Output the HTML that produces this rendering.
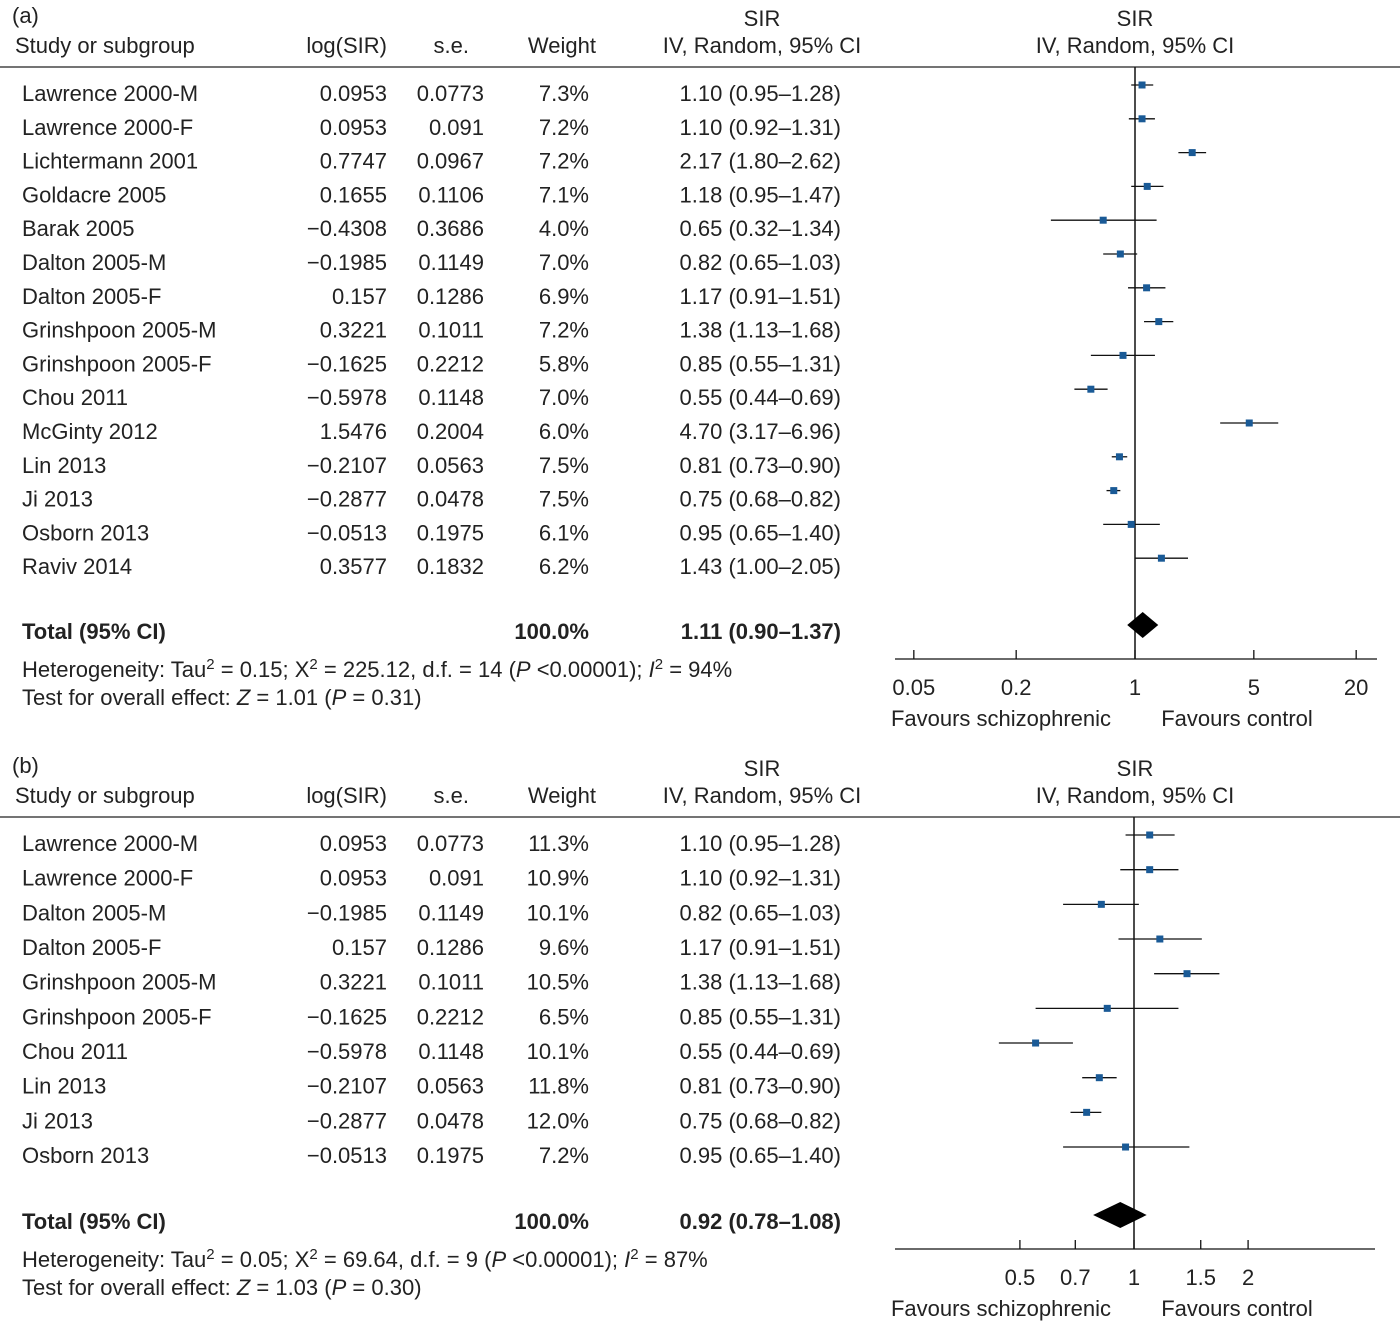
<!DOCTYPE html>
<html><head><meta charset="utf-8"><style>
html,body{margin:0;padding:0;background:#fff;}
svg{display:block;font-family:"Liberation Sans",sans-serif;}
text{fill:#222;font-size:22px;}
</style></head><body>
<svg id="c" width="1400" height="1323" viewBox="0 0 1400 1323" xmlns="http://www.w3.org/2000/svg"></svg>
<script>
const studiesA = ["Lawrence 2000-M","Lawrence 2000-F","Lichtermann 2001","Goldacre 2005","Barak 2005","Dalton 2005-M","Dalton 2005-F","Grinshpoon 2005-M","Grinshpoon 2005-F","Chou 2011","McGinty 2012","Lin 2013","Ji 2013","Osborn 2013","Raviv 2014"];
const logA = ["0.0953","0.0953","0.7747","0.1655","\u22120.4308","\u22120.1985","0.157","0.3221","\u22120.1625","\u22120.5978","1.5476","\u22120.2107","\u22120.2877","\u22120.0513","0.3577"];
const seA = ["0.0773","0.091","0.0967","0.1106","0.3686","0.1149","0.1286","0.1011","0.2212","0.1148","0.2004","0.0563","0.0478","0.1975","0.1832"];
const weightA = ["7.3%","7.2%","7.2%","7.1%","4.0%","7.0%","6.9%","7.2%","5.8%","7.0%","6.0%","7.5%","7.5%","6.1%","6.2%"];
const estA = [1.10,1.10,2.17,1.18,0.65,0.82,1.17,1.38,0.85,0.55,4.70,0.81,0.75,0.95,1.43];
const lowA = [0.95,0.92,1.80,0.95,0.32,0.65,0.91,1.13,0.55,0.44,3.17,0.73,0.68,0.65,1.00];
const highA = [1.28,1.31,2.62,1.47,1.34,1.03,1.51,1.68,1.31,0.69,6.96,0.90,0.82,1.40,2.05];
const totalA = [1.11,0.90,1.37];
const ticksA = [0.05,0.2,1,5,20];

const studiesB = ["Lawrence 2000-M","Lawrence 2000-F","Dalton 2005-M","Dalton 2005-F","Grinshpoon 2005-M","Grinshpoon 2005-F","Chou 2011","Lin 2013","Ji 2013","Osborn 2013"];
const logB = ["0.0953","0.0953","\u22120.1985","0.157","0.3221","\u22120.1625","\u22120.5978","\u22120.2107","\u22120.2877","\u22120.0513"];
const seB = ["0.0773","0.091","0.1149","0.1286","0.1011","0.2212","0.1148","0.0563","0.0478","0.1975"];
const weightB = ["11.3%","10.9%","10.1%","9.6%","10.5%","6.5%","10.1%","11.8%","12.0%","7.2%"];
const estB = [1.10,1.10,0.82,1.17,1.38,0.85,0.55,0.81,0.75,0.95];
const lowB = [0.95,0.92,0.65,0.91,1.13,0.55,0.44,0.73,0.68,0.65];
const highB = [1.28,1.31,1.03,1.51,1.68,1.31,0.69,0.90,0.82,1.40];
const totalB = [0.92,0.78,1.08];
const ticksB = [0.5,0.7,1,1.5,2];

const NS="http://www.w3.org/2000/svg";
const svg=document.getElementById('c');
function el(tag,attrs,parent){const e=document.createElementNS(NS,tag);for(const k in attrs)e.setAttribute(k,attrs[k]);(parent||svg).appendChild(e);return e;}
function txt(x,y,s,anchor,parent){const t=el('text',{x:x,y:y+8,'text-anchor':anchor||'start'},parent);t.textContent=s;return t;}
function fmt(v){return v.toFixed(2);}

function panel(o){
  const g=el('g',{});
  
  
  const sx=v=>o.x1+Math.log10(v)*o.ppd;
  let t=txt(12,o.top,'('+o.id+')','start',g);
  
  t=txt(762,o.top+3,'SIR','middle',g);
  t=txt(1135,o.top+3,'SIR','middle',g);
  const hy=o.top+30;
  const hdrs=[[15,'Study or subgroup','start'],[387,'log(SIR)','end'],[469,'s.e.','end'],[596,'Weight','end'],[762,'IV, Random, 95% CI','middle'],[1135,'IV, Random, 95% CI','middle']];
  hdrs.forEach(h=>{const e=txt(h[0],hy,h[1],h[2],g);});
  let l=el('line',{x1:0,x2:1400,y1:o.rule,y2:o.rule,stroke:'#222','stroke-width':1.3},g);
  
  l=el('line',{x1:o.x1,x2:o.x1,y1:o.rule,y2:o.axisY,stroke:'#111','stroke-width':1.5},g);
  
  o.studies.forEach((s,i)=>{
    const y=o.y0+i*o.dy;
    const r=el('g',{},g);
    
    txt(22,y,s,'start',r);txt(387,y,o.log[i],'end',r);txt(484,y,o.se[i],'end',r);txt(589,y,o.w[i],'end',r);
    txt(841,y,fmt(o.est[i])+' ('+fmt(o.low[i])+'\u2013'+fmt(o.high[i])+')','end',r);
    const my=y-8;
    const ci=el('line',{x1:sx(o.low[i]),x2:sx(o.high[i]),y1:my,y2:my,stroke:'#111','stroke-width':1.3},r);
    
    const m=el('rect',{x:sx(o.est[i])-3.5,y:my-3.5,width:7,height:7,fill:'#1a5a96'},r);
    
  });
  const ty=o.totalY;
  t=txt(22,ty,'Total (95% CI)','start',g);t.setAttribute('font-weight','bold');
  t=txt(589,ty,'100.0%','end',g);t.setAttribute('font-weight','bold');
  t=txt(841,ty,fmt(o.total[0])+' ('+fmt(o.total[1])+'\u2013'+fmt(o.total[2])+')','end',g);t.setAttribute('font-weight','bold');
  const dy=ty-6;
  const d=el('polygon',{points:`${sx(o.total[1])},${dy} ${sx(o.total[0])},${dy-13} ${sx(o.total[2])},${dy} ${sx(o.total[0])},${dy+13}`,fill:'#000'},g);
  
  const ht=el('text',{x:22,y:o.hetY+8},g);
  
  ht.innerHTML=o.het;
  const tt=el('text',{x:22,y:o.hetY+36},g);
  
  tt.innerHTML=o.test;
  l=el('line',{x1:895,x2:o.axEnd,y1:o.axisY,y2:o.axisY,stroke:'#111','stroke-width':1.3},g);
  
  o.ticks.forEach(v=>{
    const tk=el('line',{x1:sx(v),x2:sx(v),y1:o.axisY-9,y2:o.axisY,stroke:'#111','stroke-width':1.3},g);
    
    const lb=txt(sx(v),o.axisY+28,String(v),'middle',g);
    
  });
  t=txt(1001,o.axisY+59,'Favours schizophrenic','middle',g);
  t=txt(1237,o.axisY+59,'Favours control','middle',g);
}
const sup=s=>`<tspan baseline-shift="super" font-size="15">${s}</tspan>`;
panel({id:'a',top:15,rule:67,y0:93,dy:33.8,x1:1135,ppd:170,axisY:659,axEnd:1377,totalY:631,hetY:669,
 studies:studiesA,log:logA,se:seA,w:weightA,est:estA,low:lowA,high:highA,total:totalA,ticks:ticksA,
 het:`Heterogeneity: Tau${sup(2)} = 0.15; X${sup(2)} = 225.12, d.f. = 14 (<tspan font-style="italic">P</tspan> &lt;0.00001); <tspan font-style="italic">I</tspan>${sup(2)} = 94%`,
 test:`Test for overall effect: <tspan font-style="italic">Z</tspan> = 1.01 (<tspan font-style="italic">P</tspan> = 0.31)`});
panel({id:'b',top:765,rule:817,y0:843,dy:34.67,x1:1134,ppd:379,axisY:1249,axEnd:1375,totalY:1221,hetY:1259,
 studies:studiesB,log:logB,se:seB,w:weightB,est:estB,low:lowB,high:highB,total:totalB,ticks:ticksB,
 het:`Heterogeneity: Tau${sup(2)} = 0.05; X${sup(2)} = 69.64, d.f. = 9 (<tspan font-style="italic">P</tspan> &lt;0.00001); <tspan font-style="italic">I</tspan>${sup(2)} = 87%`,
 test:`Test for overall effect: <tspan font-style="italic">Z</tspan> = 1.03 (<tspan font-style="italic">P</tspan> = 0.30)`});
</script>
</body></html>
